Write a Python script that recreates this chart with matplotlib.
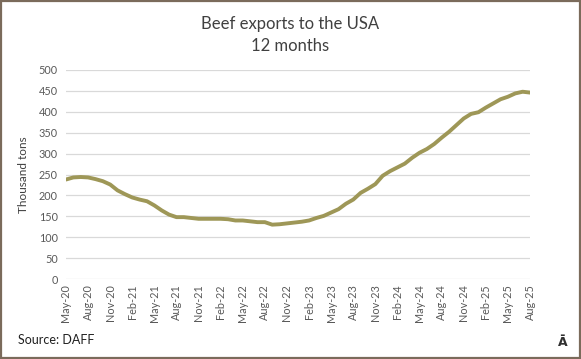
import matplotlib
matplotlib.use("Agg")
import matplotlib.pyplot as plt
from matplotlib.patches import Rectangle

# Monthly 12-month rolling beef exports to the USA, May-20 .. Aug-25 (thousand tons)
months = []
names = ["Jan", "Feb", "Mar", "Apr", "May", "Jun", "Jul", "Aug", "Sep", "Oct", "Nov", "Dec"]
for k in range(64):
    m = (4 + k) % 12
    yr = 20 + (4 + k) // 12
    months.append(f"{names[m]}-{yr}")

exports = [238, 243, 244, 243, 239, 234, 226, 212, 203, 195, 190, 186,
           176, 164, 154, 148, 148, 146, 144, 144, 144, 144, 143, 140,
           140, 138, 136, 136, 130, 131, 133, 135, 137, 140, 146, 151,
           159, 167, 180, 190, 206, 216, 227, 247, 258, 267, 276, 290,
           302, 311, 323, 338, 352, 368, 384, 395, 399, 410, 420, 430,
           436, 444, 448, 446]

yticks = [0, 50, 100, 150, 200, 250, 300, 350, 400, 450, 500]

fig = plt.figure(figsize=(5.81, 3.59), dpi=100)
fig.patch.set_facecolor("white")
fig.patches.append(Rectangle((0.002, 0.003), 0.996, 0.994, transform=fig.transFigure,
                             fill=False, edgecolor="#7b6b5b", linewidth=1.6))

ax = fig.add_axes([66 / 581, 80 / 359, 464 / 581, 209 / 359])
x = list(range(len(exports)))
ax.plot(x, exports, color="#9e9757", linewidth=2.8, solid_capstyle="round")

ax.set_xlim(0, len(exports) - 1)
ax.set_ylim(0, 500)
ax.set_yticks(yticks)
ax.set_xticks(x[::3])
ax.set_xticklabels(months[::3], rotation=90, fontsize=7.8, color="#595959", family="Lato")
for lab in ax.get_yticklabels():
    lab.set_family("Lato")
ax.tick_params(axis="y", labelsize=7.8, labelcolor="#595959", length=0, pad=6)
ax.tick_params(axis="x", length=0, pad=4)
ax.grid(axis="y", color="#d9d9d9", linewidth=0.9)
ax.set_axisbelow(True)
for s in ax.spines.values():
    s.set_visible(False)
ax.set_ylabel("Thousand tons", fontsize=8.5, color="#404040", family="Lato", labelpad=7)

fig.text(0.5, 0.933, "Beef exports to the USA", ha="center", va="center",
         fontsize=12, color="#404040", family="Lato")
fig.text(0.5, 0.873, "12 months", ha="center", va="center",
         fontsize=12, color="#404040", family="Lato")
fig.text(18 / 581, 1 - 340 / 359, "Source: DAFF", ha="left", va="center",
         fontsize=9, color="#202020", family="Lato")
fig.text(563 / 581, 1 - 342 / 359, "Ā", ha="center", va="center",
         fontsize=9, fontweight="bold", color="#303030", family="DejaVu Sans")

fig.savefig("out.png", dpi=100)
